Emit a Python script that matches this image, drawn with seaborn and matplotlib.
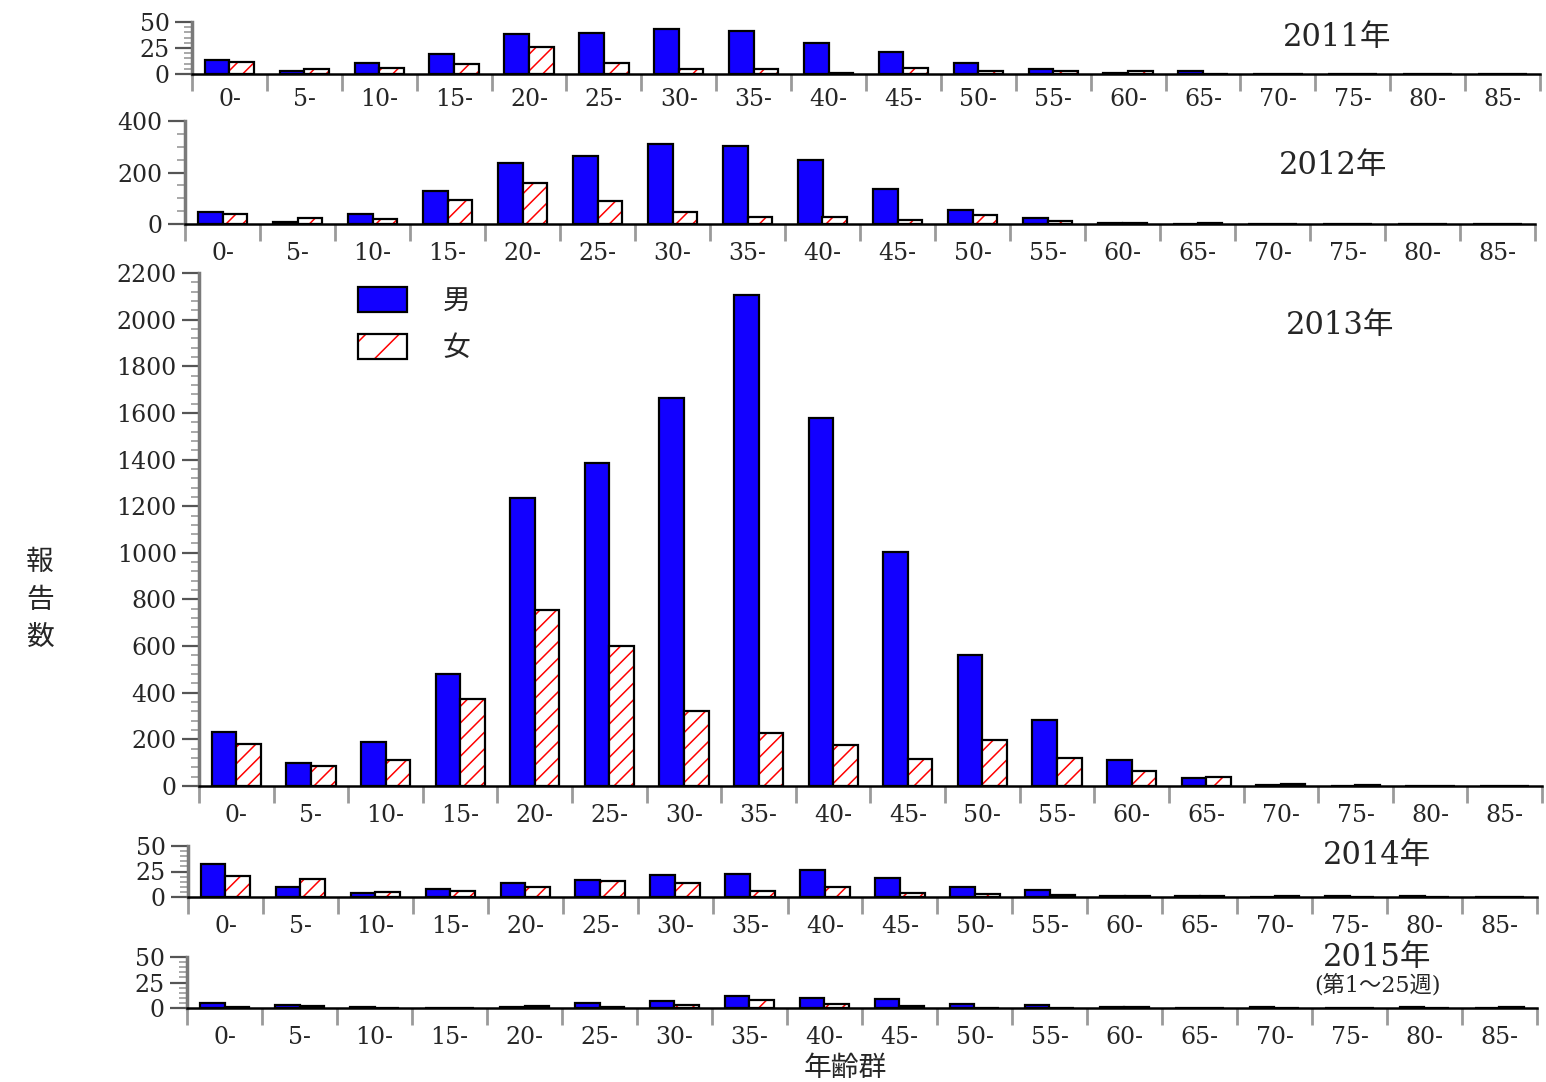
import numpy as np
import pandas as pd
import matplotlib
matplotlib.use("Agg")
import matplotlib.pyplot as plt
from matplotlib.patches import Patch, Rectangle
from matplotlib.legend_handler import HandlerTuple
from matplotlib.ticker import MultipleLocator
import seaborn as sns

# ---- data -------------------------------------------------------------
age_groups = ["0-", "5-", "10-", "15-", "20-", "25-", "30-", "35-", "40-",
              "45-", "50-", "55-", "60-", "65-", "70-", "75-", "80-", "85-"]
sexes = ["男", "女"]
year_labels = ["2011年", "2012年", "2013年", "2014年", "2015年"]
note_2015 = "(第1～25週)"

male_2011 = [13, 3, 11, 19, 38, 39, 43, 41, 30, 21, 11, 5, 1, 3, 0, 0, 0, 0]
female_2011 = [12, 5, 6, 10, 26, 11, 5, 5, 1, 6, 3, 3, 3, 0, 0, 0, 0, 0]

male_2012 = [46, 9, 37, 128, 237, 263, 309, 303, 250, 136, 53, 22, 4, 1, 1, 1, 0, 0]
female_2012 = [37, 24, 20, 92, 158, 89, 45, 29, 29, 16, 36, 13, 3, 2, 0, 0, 0, 0]

male_2013 = [231, 97, 187, 482, 1235, 1385, 1664, 2106, 1578, 1003, 562, 283, 111, 36, 5, 2, 0, 1]
female_2013 = [182, 86, 111, 372, 755, 600, 322, 226, 176, 117, 197, 119, 64, 40, 8, 3, 0, 1]

male_2014 = [32, 10, 4, 8, 14, 17, 22, 23, 26, 19, 10, 7, 1, 1, 0, 1, 1, 0]
female_2014 = [21, 18, 5, 6, 10, 16, 14, 6, 10, 4, 3, 2, 1, 1, 1, 0, 0, 0]

male_2015 = [5, 3, 1, 0, 1, 5, 7, 12, 10, 9, 4, 3, 1, 0, 1, 0, 1, 0]
female_2015 = [1, 2, 0, 0, 2, 1, 3, 8, 4, 2, 0, 0, 1, 0, 0, 0, 0, 1]

y_max = [50, 400, 2200, 50, 50]
y_major = [25, 200, 200, 25, 25]
y_minor = [5, 50, 40, 5, 5]

# ---- style ------------------------------------------------------------
sns.set_style("ticks")
plt.rcParams["font.family"] = ["DejaVu Serif", "Noto Sans CJK JP"]
plt.rcParams["hatch.linewidth"] = 1.1

BLUE = "#1200ff"
HATCH = "//"
W, H = 1546, 1082
fig = plt.figure(figsize=(W / 100, H / 100), dpi=100)


def rect(left, right, bottom, top):
    return [left / W, 1 - bottom / H, (right - left) / W, (bottom - top) / H]


# axes rectangles in pixel space (left, right, y of zero line, y of top)
rects = [rect(192, 1540, 74, 22),
         rect(185, 1535, 224, 121),
         rect(199, 1542, 786, 273),
         rect(188, 1537, 897, 846),
         rect(187, 1537, 1008, 957)]
label_pads = [10, 13, 13, 13, 13]

series = [(male_2011, female_2011), (male_2012, female_2012),
          (male_2013, female_2013), (male_2014, female_2014),
          (male_2015, female_2015)]

for i, (male, female) in enumerate(series):
    ax = fig.add_axes(rects[i])
    df = pd.DataFrame({
        "年齢群": age_groups * 2,
        "性別": [sexes[0]] * len(age_groups) + [sexes[1]] * len(age_groups),
        "報告数": male + female,
    })
    sns.barplot(data=df, x="年齢群", y="報告数", hue="性別",
                order=age_groups, hue_order=sexes,
                palette={sexes[0]: BLUE, sexes[1]: "white"},
                saturation=1, width=0.66, edgecolor="black", linewidth=1.6,
                legend=False, ax=ax)

    # female bars: red hatch with a black outline on top
    for bar in ax.containers[1]:
        bar.set_edgecolor("red")
        bar.set_linewidth(0)
        bar.set_hatch(HATCH)
        ax.add_patch(Rectangle(bar.get_xy(), bar.get_width(), bar.get_height(),
                               fill=False, edgecolor="black", linewidth=1.6,
                               zorder=bar.get_zorder() + 0.1))

    ax.set_xlim(-0.5, len(age_groups) - 0.5)
    ax.set_ylim(0, y_max[i])
    ax.set_xlabel("")
    ax.set_ylabel("")

    ax.yaxis.set_major_locator(MultipleLocator(y_major[i]))
    ax.yaxis.set_minor_locator(MultipleLocator(y_minor[i]))
    ax.tick_params(axis="y", which="major", length=12, width=1.6,
                   color="#555555", labelsize=17, pad=4)
    ax.tick_params(axis="y", which="minor", length=6, width=1.2,
                   color="#9a9a9a")

    ax.set_xticks(range(len(age_groups)))
    ax.set_xticklabels(age_groups)
    ax.set_xticks(np.arange(-0.5, len(age_groups), 1), minor=True)
    ax.tick_params(axis="x", which="major", length=0, labelsize=17,
                   pad=label_pads[i])
    ax.tick_params(axis="x", which="minor", length=12, width=2,
                   color="#9a9a9a")

    sns.despine(ax=ax)
    ax.spines["left"].set_color("#7a7a7a")
    ax.spines["left"].set_linewidth(2.5)
    ax.spines["bottom"].set_color("black")
    ax.spines["bottom"].set_linewidth(1.8)
    ax.patch.set_alpha(0)

# ---- year labels --------------------------------------------------------
year_pos = [(1337, 38), (1333, 165), (1340, 325), (1377, 855), (1377, 957)]
for label, (px, py) in zip(year_labels, year_pos):
    fig.text(px / W, 1 - py / H, label, ha="center", va="center", fontsize=22)
fig.text(1378 / W, 1 - 985 / H, note_2015, ha="center", va="center",
         fontsize=16)

# ---- axis titles --------------------------------------------------------
fig.text(40 / W, 1 - 600 / H, "報\n告\n数", ha="center", va="center",
         fontsize=20, linespacing=1.5)
fig.text(845 / W, 1 - 1068 / H, "年齢群", ha="center", va="center",
         fontsize=20)

# ---- legend -------------------------------------------------------------
h_male = Patch(facecolor=BLUE, edgecolor="black", linewidth=1.6)
h_female = (Patch(facecolor="white", edgecolor="red", linewidth=0, hatch="/"),
            Patch(fill=False, edgecolor="black", linewidth=1.6))
fig.legend([h_male, h_female], sexes,
           handler_map={tuple: HandlerTuple(ndivide=1, pad=0)},
           loc="upper left", bbox_to_anchor=(358 / W, 1 - 287 / H),
           frameon=False, fontsize=20, borderpad=0, borderaxespad=0,
           handlelength=1.75, handleheight=1.0, handletextpad=1.3,
           labelspacing=0.7)

fig.savefig("out.png", dpi=100)
